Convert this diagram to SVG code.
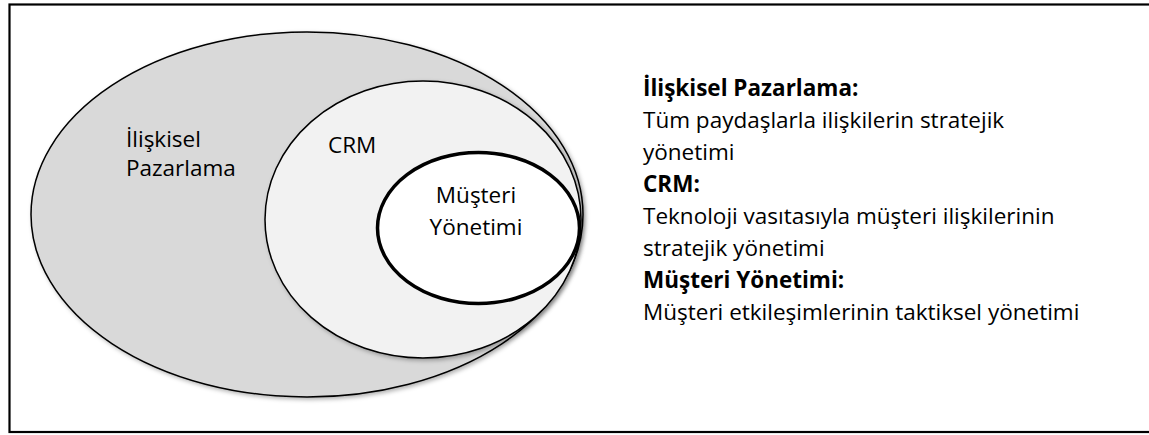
<svg xmlns="http://www.w3.org/2000/svg" width="1149" height="435" viewBox="0 0 1149 435">
  <defs>
    <filter id="shadow" x="-10%" y="-10%" width="125%" height="125%">
      <feDropShadow dx="2" dy="2" stdDeviation="2" flood-color="#000" flood-opacity="0.3"/>
    </filter>
    <style>
      .lbl { font-family: "Open Sans", "Liberation Sans", sans-serif; font-size: 22.5px; fill: #000; }
      .b { font-weight: bold; }
      .ell { stroke: #000; stroke-width: 1.5; }
    </style>
  </defs>
  <rect x="0" y="0" width="1149" height="435" fill="#fff"/>
  <rect id="frame" x="9.5" y="4.5" width="1150" height="427.5" fill="none" stroke="#000" stroke-width="2.2"/>

  <g id="node-iliskisel">
    <ellipse class="ell" cx="307" cy="214.5" rx="276" ry="182.5" fill="#d9d9d9" filter="url(#shadow)"/>
    <text class="lbl" x="126" y="147">İlişkisel</text>
    <text class="lbl" x="126" y="176">Pazarlama</text>
  </g>
  <g id="node-crm">
    <ellipse class="ell" cx="423" cy="219.5" rx="158" ry="138.5" fill="#f2f2f2" filter="url(#shadow)"/>
    <text class="lbl" x="328" y="153">CRM</text>
  </g>
  <g id="node-musteri">
    <ellipse cx="478.5" cy="228" rx="101" ry="75.5" fill="#fff" stroke="#000" stroke-width="3.5"/>
    <text class="lbl" x="476" y="203" text-anchor="middle">Müşteri</text>
    <text class="lbl" x="476" y="235" text-anchor="middle">Yönetimi</text>
  </g>
  <g id="connectors"/>

  <g id="legend">
    <text class="lbl b" x="643" y="96">İlişkisel Pazarlama:</text>
    <text class="lbl" x="643" y="128">Tüm paydaşlarla ilişkilerin stratejik</text>
    <text class="lbl" x="643" y="160">yönetimi</text>
    <text class="lbl b" x="643" y="192">CRM:</text>
    <text class="lbl" x="643" y="224">Teknoloji vasıtasıyla müşteri ilişkilerinin</text>
    <text class="lbl" x="643" y="256">stratejik yönetimi</text>
    <text class="lbl b" x="643" y="288">Müşteri Yönetimi:</text>
    <text class="lbl" x="643" y="320">Müşteri etkileşimlerinin taktiksel yönetimi</text>
  </g>
</svg>
